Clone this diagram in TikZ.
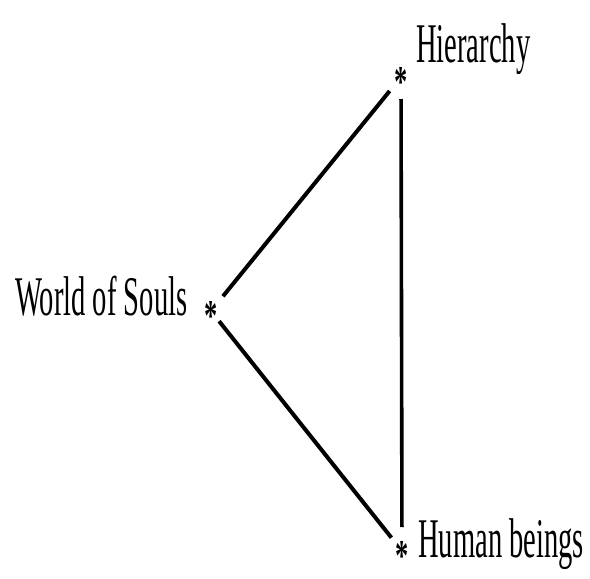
\documentclass[tikz,border=0pt]{standalone}
\usepackage{fontspec}
\setmainfont{Liberation Serif}
\begin{document}
\begin{tikzpicture}[x=1pt,y=-1pt,
  lbl/.style={anchor=base west,inner sep=0pt,font=\fontsize{56}{60}\selectfont},
  ast/.style={anchor=center,inner sep=0pt,font=\bfseries\fontsize{44}{50}\selectfont},
  edge/.style={line width=4pt}]
\useasboundingbox (0,0) rectangle (590,579);
\coordinate (cH) at (401,77);
\coordinate (cW) at (211,311);
\coordinate (cB) at (402,551);
\node[ast] (sH) at (cH) {\scalebox{0.6}[1]{\raisebox{-0.38em}[0.24em][0.12em]{*}}};
\node[ast] (sW) at (cW) {\scalebox{0.6}[1]{\raisebox{-0.38em}[0.24em][0.12em]{*}}};
\node[ast] (sB) at (cB) {\scalebox{0.6}[1]{\raisebox{-0.38em}[0.24em][0.12em]{*}}};
\node[lbl] (tH) at (416,62) {\scalebox{0.51}[1]{Hierarchy}};
\node[lbl] (tW) at (15,315) {\scalebox{0.51}[1]{World of Souls}};
\node[lbl] (tB) at (418,557) {\scalebox{0.51}[1]{Human beings}};
\draw[edge, shorten <=19pt, shorten >=18pt] (cW) -- (cH);
\draw[edge, shorten <=13pt, shorten >=17pt] (cW) -- (cB);
\draw[edge, line width=3.6pt, shorten <=22pt, shorten >=24pt] (cH) -- (cB);
\end{tikzpicture}
\end{document}
